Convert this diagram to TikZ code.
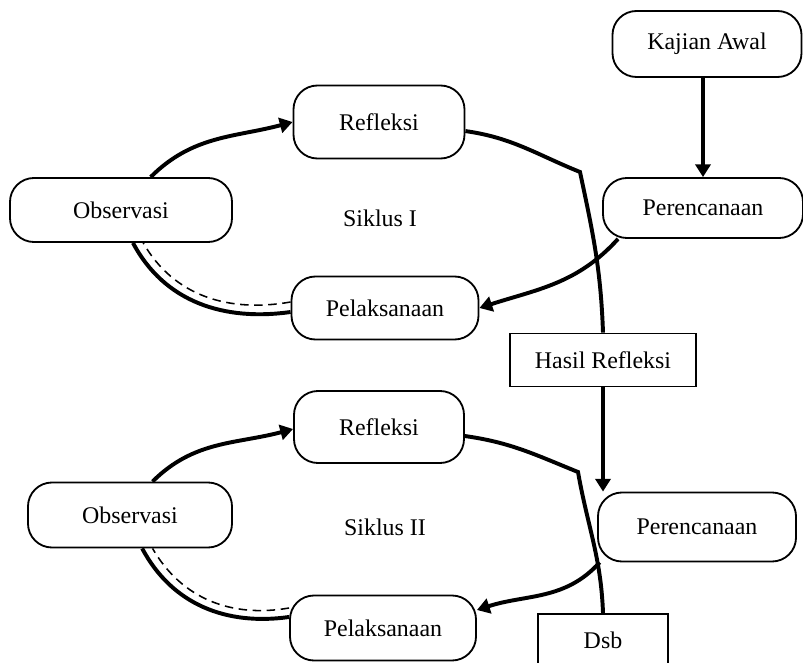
\documentclass[tikz,border=0pt]{standalone}
\usepackage{fontspec}
\setmainfont{Liberation Serif}
\usetikzlibrary{arrows.meta, positioning}

\begin{document}
\begin{tikzpicture}[
    x=0.025cm, y=-0.025cm,
    n/.style={rectangle, draw, rounded corners=0.6cm, line width=1.3pt, font=\fontsize{17}{20}\selectfont, inner sep=0pt},
    b/.style={rectangle, draw, line width=1.3pt, font=\fontsize{17}{20}\selectfont, inner sep=0pt},
    a/.style={-{Triangle[length=0.32cm, width=0.38cm]}, line width=2.8pt},
    l/.style={line width=2.8pt},
    d/.style={dashed, line width=1.1pt, dash pattern=on 6pt off 4pt},
]
\clip (0,0) rectangle (803,663);
% top part
\node[n, minimum width=4.725cm, minimum height=1.65cm] (kaj) at (707,44) {Kajian Awal};
\node[n, minimum width=5cm, minimum height=1.5cm] (per1) at (703,208) {Perencanaan};
\node[n, minimum width=4.275cm, minimum height=1.825cm] (ref1) at (379,122) {Refleksi};
\node[n, minimum width=5.55cm, minimum height=1.6cm] (obs1) at (121,210) {Observasi};
\node[n, minimum width=4.675cm, minimum height=1.575cm] (pel1) at (385,308) {Pelaksanaan};
\node[font=\fontsize{17}{20}\selectfont] (s1) at (380,218) {Siklus I};
\node[b, minimum width=4.65cm, minimum height=1.325cm] (hasil) at (603,360) {Hasil Refleksi};
% bottom part
\node[n, minimum width=4.25cm, minimum height=1.8cm] (ref2) at (379,427) {Refleksi};
\node[n, minimum width=5.1cm, minimum height=1.625cm] (obs2) at (130,515) {Observasi};
\node[n, minimum width=4.95cm, minimum height=1.725cm] (per2) at (697,527) {Perencanaan};
\node[n, minimum width=4.65cm, minimum height=1.625cm] (pel2) at (383,628) {Pelaksanaan};
\node[font=\fontsize{17}{20}\selectfont] (s2) at (385,527) {Siklus II};
\node[b, minimum width=3.25cm, minimum height=1.3cm] (dsb) at (603,640) {Dsb};
\coordinate (k1) at (580,172);
\coordinate (k2) at (578,472);

\draw[a] (per1.north |- kaj.south) -- (per1.north);
\draw[a] (obs1.48) to[out=45, in=195] (ref1.west);
\draw[l] (ref1.-6) to[out=-8, in=158] (k1) to[out=-78, in=92] (hasil.north);
\draw[a] (per1.200) to[out=228, in=18] (pel1.east);
\draw[l] ([yshift=-0.1cm]pel1.west) to[out=188, in=-62] (obs1.-70);
\draw[d] ([yshift=0.15cm]pel1.west) to[out=190, in=-60] (obs1.-56);
\draw[a] (hasil.south) -- (hasil.south |- per2.north);

\draw[a] (obs2.56) to[out=45, in=195] ([yshift=-0.05cm]ref2.west);
\draw[l] (ref2.-6) to[out=-8, in=158] (k2) to[out=-80, in=92] (dsb.north);
\draw[a] (per2.200) to[out=228, in=18] ([yshift=0.45cm]pel2.east);
\draw[l] ([yshift=0.275cm]pel2.west) to[out=188, in=-62] (obs2.-70);
\draw[d] ([yshift=0.5cm]pel2.west) to[out=190, in=-60] (obs2.-56);
\end{tikzpicture}
\end{document}
